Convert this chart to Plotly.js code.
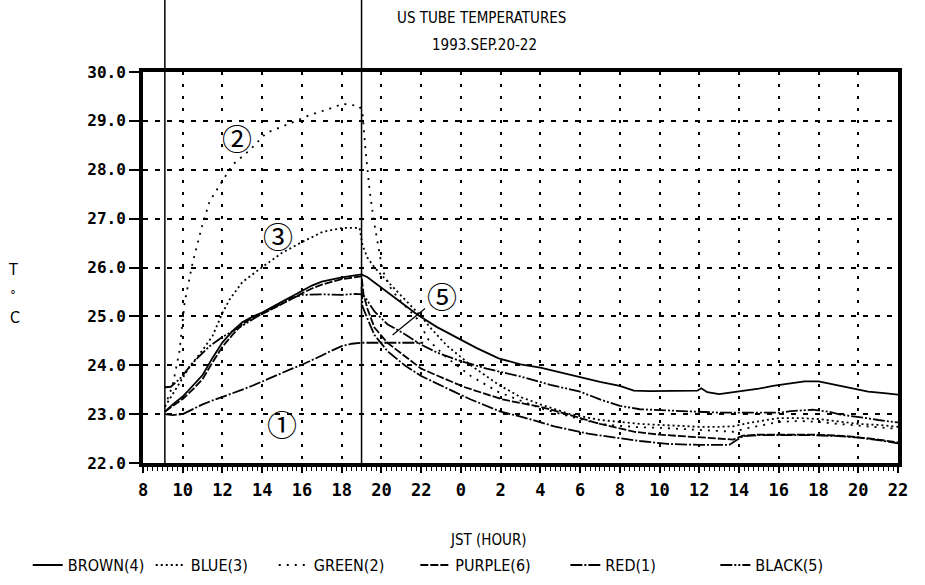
<!DOCTYPE html>
<html>
<head>
<meta charset="utf-8">
<script src="https://cdn.plot.ly/plotly-3.0.1.min.js"></script>
<style>html,body{margin:0;padding:0;background:#fff;}#chart{width:925px;height:585px;}</style>
</head>
<body>
<div id="chart"></div>
<script>
// ---- data (hours measured from 0:00 on SEP.20; 24 = 0:00 next day) ----
const xTickVals = [8,10,12,14,16,18,20,22,24,26,28,30,32,34,36,38,40,42,44,46];
const xTickText = ["8","10","12","14","16","18","20","22","0","2","4","6","8","10","12","14","16","18","20","22"];
const eventHours = [9.1, 19.0];

const brownH = [9.1,9.5,10,10.5,11,11.5,12,12.5,13,13.5,14,14.5,15,15.5,16,16.5,17,17.5,18,18.5,19,19.3,19.7,20.3,21,21.8,22.8,23.8,24.8,25.9,27,28,29,30,31,32,32.7,33.5,35,35.9,36.1,36.4,37,37.5,38.2,39,39.7,40.5,41.3,42,42.8,43.7,44.5,45.3,46];
const brownT = [23.05,23.2,23.36,23.58,23.8,24.15,24.47,24.7,24.88,24.99,25.08,25.19,25.3,25.42,25.53,25.63,25.71,25.76,25.8,25.83,25.86,25.8,25.68,25.5,25.28,25.04,24.78,24.56,24.35,24.14,24.02,23.95,23.85,23.75,23.66,23.58,23.48,23.47,23.47,23.48,23.53,23.45,23.41,23.44,23.47,23.52,23.58,23.63,23.67,23.67,23.6,23.53,23.46,23.43,23.4];

const blueH = [9.1,9.65,10.35,11,11.5,12,12.35,13,13.87,15,16,17.05,18.05,18.9,19.05,19.3,19.65,20.2,20.8,21.5,22,22.5,23.3,24.5,25.9,27,28,29.5,31,32,33,34,35,36,37,37.7,38.5,39.4,40,41,42,43,44,45,46];
const blueT = [23.15,23.5,23.97,24.31,24.6,25.07,25.34,25.7,25.97,26.3,26.52,26.73,26.81,26.81,26.45,26.2,26.0,25.76,25.5,25.2,25.0,24.75,24.4,24.0,23.6,23.35,23.2,23.0,22.88,22.84,22.8,22.78,22.76,22.74,22.74,22.75,22.82,22.88,22.92,22.92,22.9,22.85,22.8,22.78,22.74];

const greenH = [9.1,9.5,9.84,10.1,10.5,10.94,11.35,11.95,12.5,13.37,14.2,15.4,16.4,17.4,18.05,18.9,19.05,19.2,19.4,19.6,19.8,20.05,20.5,21,21.8,22.4,23.3,24.5,25.9,27,28,29.5,31,32,33,34,35,36,37,37.7,38.5,39.4,40,41,42,43,44,45,46];
const greenT = [23.15,23.6,24.3,25.3,26.1,26.8,27.35,27.75,28.1,28.4,28.75,28.95,29.12,29.25,29.35,29.3,29.15,28.4,27.6,27.0,26.5,25.95,25.55,25.3,24.95,24.5,24.15,23.78,23.45,23.28,23.12,22.95,22.8,22.76,22.73,22.72,22.7,22.68,22.66,22.64,22.72,22.8,22.84,22.86,22.84,22.8,22.76,22.73,22.7];

const purpleH = [9.1,9.5,10,10.5,11,11.5,12,12.5,13,13.5,14,14.5,15,15.5,16,16.5,17,17.5,18,18.5,19,19.1,19.3,19.65,20.3,21.2,22,23.2,24.2,26.1,28.1,30,31,32,32.7,34,36,37.7,38.2,39,40,41.7,43,43.7,45,46];
const purpleT = [23.05,23.17,23.31,23.5,23.72,24.06,24.38,24.62,24.84,24.97,25.05,25.15,25.25,25.36,25.47,25.57,25.65,25.71,25.76,25.79,25.82,25.45,25.15,24.77,24.46,24.18,23.93,23.72,23.55,23.3,23.14,22.92,22.8,22.71,22.64,22.58,22.52,22.48,22.56,22.58,22.58,22.58,22.56,22.54,22.48,22.42];

const redH = [9.1,9.5,10,10.5,11,11.5,12,12.5,13,13.5,14,14.5,15,15.5,16,16.5,17,17.5,18,18.5,19,20,21,22.1,null,19.0,19.05,19.3,19.65,20.3,21.2,22,23,23.7,24.5,25.35,26,27.1,28.7,30.4,31.75,33,34.4,36,37.5,37.8,38.2,39,40,41.7,43,44,45,46];
const redT = [23.0,22.98,23.0,23.1,23.2,23.28,23.35,23.42,23.5,23.58,23.67,23.76,23.85,23.93,24.01,24.1,24.2,24.3,24.39,24.44,24.46,24.46,24.46,24.46,null,25.6,25.2,24.95,24.62,24.29,23.99,23.78,23.58,23.45,23.3,23.15,23.05,22.94,22.75,22.6,22.52,22.45,22.39,22.37,22.37,22.45,22.55,22.57,22.57,22.57,22.55,22.52,22.47,22.4];

const blackH = [9.1,9.4,9.9,10.5,11.35,12,13,14,15,15.5,16,17,18,18.7,19,19.2,19.65,20.3,21.2,22,22.8,23.8,25.3,27,28.5,30,31,32,33,34,35,36,37,38,39,40,40.6,41.7,42.5,43.1,44.4,45,46];
const blackT = [23.55,23.56,23.74,24.05,24.39,24.58,24.81,25.06,25.27,25.38,25.44,25.45,25.44,25.46,25.45,25.38,25.1,24.84,24.63,24.42,24.26,24.11,23.93,23.77,23.6,23.46,23.3,23.17,23.1,23.08,23.06,23.04,23.03,23.03,23.03,23.03,23.06,23.09,23.05,22.99,22.92,22.88,22.83];

const seriesNames = ["BROWN(4)","BLUE(3)","GREEN(2)","PURPLE(6)","RED(1)","BLACK(5)"];
const seriesX = [brownH, blueH, greenH, purpleH, redH, blackH];
const seriesY = [brownT, blueT, greenT, purpleT, redT, blackT];
const seriesDash = ["solid","2px,3px","2px,6px","8px,2px","12px,2px,2px,2px","12px,2px,2px,2px,2px,2px"];

const labelFont = "DejaVu Sans Condensed, DejaVu Sans, sans-serif";
const tickFont = "DejaVu Sans Mono, monospace";

const traces = seriesNames.map((n,i)=>({
  x: seriesX[i], y: seriesY[i], name: n, type: 'scatter', mode: 'lines',
  connectgaps: false, legend: i < 3 ? 'legend' : 'legend2',
  line: {color: '#000', width: 1.8, dash: seriesDash[i]}
}));

const shapes = eventHours.map(h=>({
  type:'line', xref:'x', yref:'paper', x0:h, x1:h, y0:0, y1:1.19,
  line:{color:'#000', width:1.5}
}));

const circ = "Noto Sans CJK JP, sans-serif";
const txt = (text, x, y, size) => ({text, xref:'paper', yref:'paper', x, y, xanchor:'center', yanchor:'middle', showarrow:false, font:{family:labelFont, size, color:'#000'}});
const annotations = [
  txt("US TUBE TEMPERATURES", 0.449, 1.138, 15),
  txt("1993.SEP.20-22", 0.452, 1.069, 15),
  txt("T", -0.172, 0.494, 16),
  txt("°", -0.172, 0.432, 13),
  txt("C", -0.170, 0.372, 16),
  txt("JST (HOUR)", 0.458, -0.197, 15),
  {text:"①", x:15.02, y:22.82, xanchor:'center', yanchor:'middle', showarrow:false, font:{family:circ, size:30, color:'#000'}},
  {text:"②", x:12.75, y:28.67, xanchor:'center', yanchor:'middle', showarrow:false, font:{family:circ, size:30, color:'#000'}},
  {text:"③", x:14.77, y:26.67, xanchor:'center', yanchor:'middle', showarrow:false, font:{family:circ, size:30, color:'#000'}},
  {text:"⑤", x:20.56, y:24.62, ax:49, ay:-40, showarrow:true, arrowhead:0, arrowwidth:1.2, arrowcolor:'#000', font:{family:circ, size:30, color:'#000'}}
];

const legendBase = {orientation:'h', xref:'container', yref:'container', xanchor:'left', y:0.034, yanchor:'middle',
          font:{family:labelFont, size:16, color:'#000'}, itemwidth:30, bgcolor:'rgba(0,0,0,0)'};

const layout = {
  width:925, height:585,
  margin:{l:143, r:27, t:72, b:122},
  paper_bgcolor:'#fff', plot_bgcolor:'#fff',
  showlegend:true,
  legend: Object.assign({}, legendBase, {x:0.03, entrywidth:78}),
  legend2: Object.assign({}, legendBase, {x:0.449, entrywidth:105}),
  xaxis:{range:[8,46], tickmode:'array', tickvals:xTickVals, ticktext:xTickText,
         showgrid:true, gridcolor:'#000', gridwidth:2, griddash:'3px,9px',
         zeroline:false, showline:true, linecolor:'#000', linewidth:4, mirror:true,
         ticks:'outside', ticklen:6, tickwidth:2, tickcolor:'#000', ticklabelstandoff:3,
         minor:{tickmode:'linear', tick0:8, dtick:0.25, ticks:'outside', ticklen:4, tickwidth:1, tickcolor:'#000', showgrid:false},
         tickfont:{family:tickFont, size:17, color:'#000', weight:'bold'}},
  yaxis:{range:[22,30], dtick:1, tick0:22, tickformat:'.1f',
         showgrid:true, gridcolor:'#000', gridwidth:2, griddash:'5px,7px',
         zeroline:false, showline:true, linecolor:'#000', linewidth:4, mirror:true,
         ticks:'outside', ticklen:10, tickwidth:2, tickcolor:'#000',
         tickfont:{family:tickFont, size:16, color:'#000', weight:'bold'}},
  shapes: shapes,
  annotations: annotations
};

Plotly.newPlot('chart', traces, layout, {displayModeBar:false, staticPlot:true});
</script>
</body>
</html>
